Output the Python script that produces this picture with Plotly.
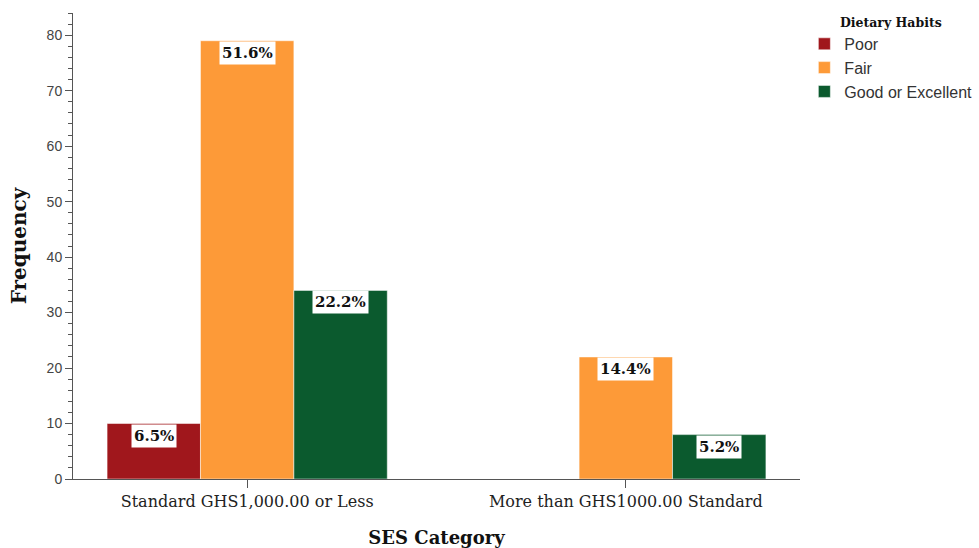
import plotly.graph_objects as go

categories = ["Standard GHS1,000.00 or Less", "More than GHS1000.00 Standard"]
series_names = ["Poor", "Fair", "Good or Excellent"]
poor = [10, 0]
fair = [79, 22]
good = [34, 8]
labels_poor = ["6.5%", None]
labels_fair = ["51.6%", "14.4%"]
labels_good = ["22.2%", "5.2%"]
colors = ["#a0171c", "#fd9a38", "#0b5a2e"]

values = [poor, fair, good]
labels = [labels_poor, labels_fair, labels_good]
xpos = list(range(len(categories)))
bargap = 0.26

fig = go.Figure()
for name, vals, col in zip(series_names, values, colors):
    fig.add_trace(go.Bar(name=name, x=xpos, y=vals, marker=dict(color=col, line=dict(color="rgba(255,255,255,0.5)", width=1))))

n = len(series_names)
bw = (1 - bargap) / n
for j, (vals, labs) in enumerate(zip(values, labels)):
    for i, (v, lab) in enumerate(zip(vals, labs)):
        if lab is None:
            continue
        fig.add_annotation(x=i + (j - (n - 1) / 2) * bw, y=v, text="<b>" + lab + "</b>",
                           showarrow=False, yanchor="top", xanchor="center",
                           bgcolor="white", borderpad=2,
                           font=dict(family="DejaVu Serif", size=15, color="#111"))

fig.update_layout(
    width=979, height=548,
    margin=dict(l=73, r=179, t=13, b=69, autoexpand=False),
    plot_bgcolor="white", paper_bgcolor="white",
    barmode="group", bargap=bargap, bargroupgap=0,
    xaxis=dict(tickmode="array", tickvals=xpos, ticktext=categories, range=[-0.46, 1.46],
               showline=True, linecolor="#555", linewidth=1, ticks="outside", ticklen=8,
               tickcolor="#555", showgrid=False, zeroline=False, automargin=False,
               tickfont=dict(family="DejaVu Serif", size=16, color="#222"),
               title=dict(text="<b>SES Category</b>", font=dict(family="DejaVu Serif", size=18, color="#111"), standoff=22)),
    yaxis=dict(range=[0, 84], dtick=10, showline=True, linecolor="#555", linewidth=1,
               ticks="outside", ticklen=7, tickcolor="#555", showgrid=False, zeroline=False, automargin=False,
               minor=dict(dtick=2, ticks="outside", ticklen=4, tickcolor="#555"),
               tickfont=dict(family="Liberation Sans", size=14, color="#444"),
               title=dict(text="<b>Frequency</b>", font=dict(family="DejaVu Serif", size=20, color="#111"), standoff=14)),
    legend=dict(x=1.006, y=1.005, xanchor="left", yanchor="top",
                title=dict(text="<b>Dietary Habits</b>", side="top center", font=dict(family="DejaVu Serif", size=12.5, color="#111")),
                font=dict(family="Liberation Sans", size=16, color="#333"),
                itemwidth=30, tracegroupgap=0, bgcolor="rgba(0,0,0,0)"),
)
fig.write_html("out.html", config={"displayModeBar": False},
               post_script="document.body.style.margin='0';document.body.style.padding='0';")
